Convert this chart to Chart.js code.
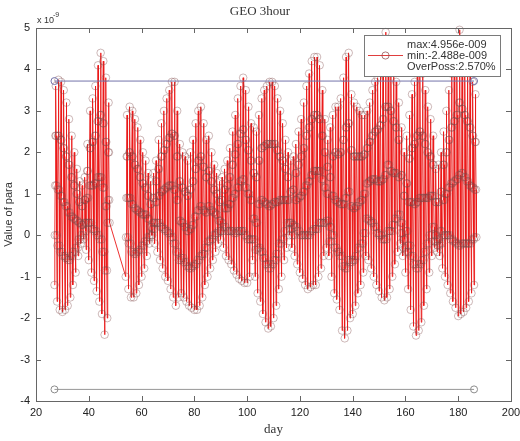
<!DOCTYPE html>
<html>
<head>
<meta charset="utf-8">
<title>GEO 3hour</title>
<script src="https://cdn.jsdelivr.net/npm/chart.js@4.4.1/dist/chart.umd.min.js"></script>
<style>
  html, body { margin: 0; padding: 0; background: #fff; }
  #wrap { width: 520px; height: 441px; }
</style>
</head>
<body>
<div id="wrap"><canvas id="chart" width="520" height="441"></canvas></div>
<script>
// days that have data (gap 48-53 is bridged by one line, as in the plot)
const days = [
  27, 28, 29, 30, 31, 32, 33, 34, 35, 36,
  37, 38, 39, 40, 41, 42, 43, 44, 45, 46,
  47,
  54, 55, 56, 57, 58, 59, 60, 61, 62, 63,
  64, 65, 66, 67, 68, 69, 70, 71, 72, 73,
  74, 75, 76, 77, 78, 79, 80, 81, 82, 83,
  84, 85, 86, 87, 88, 89, 90, 91, 92, 93,
  94, 95, 96, 97, 98, 99, 100, 101, 102, 103,
  104, 105, 106, 107, 108, 109, 110, 111, 112, 113,
  114, 115, 116, 117, 118, 119, 120, 121, 122, 123,
  124, 125, 126, 127, 128, 129, 130, 131, 132, 133,
  134, 135, 136, 137, 138, 139, 140, 141, 142, 143,
  144, 145, 146, 147, 148, 149, 150, 151, 152, 153,
  154, 155, 156, 157, 158, 159, 160, 161, 162, 163,
  164, 165, 166, 167, 168, 169, 170, 171, 172, 173,
  174, 175, 176, 177, 178, 179, 180, 181, 182, 183,
  184, 185, 186
];

// daily levels of the para value (x 1e-9):
// low, lower-centre, centre, upper-centre, high
const dayLow = [
  -1.2, -1.6, -1.8, -1.85, -1.8, -1.7, -1.5, -1.2, -0.9, -0.5,
  -0.2, -0.1, -0.35, -0.6, -0.9, -1.1, -1.35, -1.6, -1.9, -2.4,
  -2.0,
  -1.0, -1.3, -1.5, -1.5, -1.4, -1.2, -1.0, -0.8, -0.5, -0.2,
  0.0, -0.2, -0.4, -0.6, -0.8, -1.0, -1.1, -1.3, -1.5, -1.7,
  -1.5, -1.4, -1.5, -1.6, -1.7, -1.75, -1.8, -1.8, -1.7, -1.5,
  -1.2, -1.0, -0.8, -0.6, -0.4, -0.2, -0.1, -0.3, -0.5, -0.6,
  -0.7, -0.85, -0.95, -1.05, -1.1, -1.15, -1.15, -1.0, -0.6, -1.0,
  -1.4, -1.6, -1.9, -2.1, -2.25, -2.2, -2.0, -1.7, -1.3, -1.0,
  -0.6, -0.3, 0.0, -0.3, -0.5, -0.7, -0.9, -1.05, -1.2, -1.3,
  -1.25, -1.2, -1.2, -1.0, -0.8, -0.5, -0.3, -0.5, -1.0, -1.4,
  -1.55, -1.8, -2.3, -2.488, -2.3, -2.0, -1.9, -1.7, -1.4, -1.2,
  -0.9, -0.5, -0.6, -0.8, -1.0, -1.2, -1.35, -1.5, -1.57, -1.5,
  -1.3, -1.0, -0.7, -0.4, -0.2, -0.5, -0.9, -1.3, -1.8, -2.2,
  -2.42, -2.3, -2.1, -1.7, -1.3, -0.9, -0.5, -0.3, -0.4, -0.5,
  -0.8, -1.0, -1.2, -1.4, -1.6, -1.75, -1.95, -1.9, -1.85, -1.75,
  -1.6, -1.4, -1.2
];

const dayLower = [
  0.0, -0.25, -0.4, -0.5, -0.55, -0.6, -0.5, -0.4, -0.3, -0.1,
  0.0, 0.1, 0.3, 0.3, 0.15, 0.1, 0.0, -0.1, -0.4, -0.85,
  0.3,
  -0.05, -0.2, -0.4, -0.45, -0.4, -0.35, -0.25, -0.15, -0.05, 0.0,
  0.15, 0.3, 0.3, 0.2, 0.15, 0.1, 0.05, -0.05, -0.2, -0.4,
  -0.6, -0.55, -0.65, -0.75, -0.8, -0.75, -0.7, -0.6, -0.5, -0.45,
  -0.3, -0.15, -0.1, 0.0, 0.05, 0.1, 0.1, 0.2, 0.1, 0.1,
  0.1, 0.05, 0.1, 0.1, 0.1, 0.0, -0.1, -0.1, -0.1, -0.35,
  -0.3, -0.4, -0.55, -0.7, -0.8, -0.7, -0.6, -0.45, -0.2, -0.1,
  0.1, 0.3, 0.15, 0.0, 0.2, 0.1, 0.0, 0.0, 0.0, 0.0,
  0.1, 0.15, 0.15, 0.3, 0.3, 0.3, 0.35, -0.15, 0.0, -0.3,
  -0.4, -0.5, -0.75, -0.8, -0.6, -0.65, -0.6, -0.5, -0.3, -0.2,
  0.05, 0.4, 0.35, 0.3, 0.2, 0.05, 0.0, -0.1, -0.1, 0.1,
  0.1, 0.25, 0.4, 0.5, 0.05, -0.3, -0.4, -0.25, -0.5, -0.7,
  -0.8, -0.7, -0.6, -0.4, -0.2, 0.0, 0.2, -0.15, -0.25, -0.2,
  0.0, 0.0, 0.0, -0.1, -0.15, -0.2, -0.25, -0.2, -0.2, -0.2,
  -0.2, -0.1, -0.05
];

const dayMid = [
  1.2, 1.1, 0.95, 0.8, 0.7, 0.55, 0.45, 0.4, 0.35, 0.3,
  0.25, 0.3, 0.9, 1.2, 1.2, 1.25, 1.4, 1.4, 1.15, 0.7,
  0.85,
  0.9, 0.9, 0.75, 0.65, 0.6, 0.55, 0.5, 0.5, 0.4, 0.2,
  0.3, 0.8, 0.95, 1.05, 1.1, 1.15, 1.2, 1.2, 1.1, 0.85,
  0.35, 0.3, 0.2, 0.1, 0.15, 0.25, 0.45, 0.6, 0.7, 0.6,
  0.55, 0.7, 0.6, 0.55, 0.5, 0.35, 0.3, 0.65, 0.65, 0.75,
  0.9, 1.0, 1.15, 1.3, 1.35, 1.15, 1.0, 0.85, 0.4, 0.3,
  0.75, 0.85, 0.8, 0.75, 0.7, 0.75, 0.8, 0.8, 0.85, 0.85,
  0.85, 0.85, 0.3, 0.25, 0.85, 0.9, 0.95, 1.05, 1.2, 1.3,
  1.45, 1.55, 1.55, 1.55, 1.35, 1.15, 1.0, 0.2, 0.95, 0.85,
  0.8, 0.75, 0.75, 0.9, 1.05, 0.7, 0.65, 0.7, 0.8, 0.85,
  1.0, 1.25, 1.3, 1.35, 1.35, 1.3, 1.3, 1.35, 1.45, 1.7,
  1.55, 1.5, 1.5, 1.4, 0.3, -0.1, 0.1, 0.8, 0.8, 0.75,
  0.8, 0.9, 0.9, 0.9, 0.9, 0.95, 0.95, 0.0, -0.1, 0.1,
  0.85, 1.0, 1.15, 1.25, 1.3, 1.35, 1.45, 1.5, 1.4, 1.3,
  1.2, 1.15, 1.1
];

const dayUpper = [
  2.4, 2.4, 2.3, 2.1, 1.9, 1.7, 1.4, 1.2, 1.0, 0.8,
  0.7, 0.85, 1.55, 2.1, 2.25, 2.4, 2.75, 2.9, 2.7, 2.25,
  2.0,
  1.9, 2.0, 1.9, 1.7, 1.6, 1.4, 1.25, 1.15, 0.95, 0.75,
  0.9, 1.3, 1.6, 1.9, 2.05, 2.2, 2.35, 2.45, 2.4, 1.9,
  1.3, 1.15, 1.05, 0.95, 1.1, 1.3, 1.6, 1.8, 1.9, 1.65,
  1.4, 1.55, 1.3, 1.1, 1.0, 0.8, 0.85, 1.1, 1.2, 1.4,
  1.7, 1.95, 2.2, 2.45, 2.55, 2.3, 2.05, 1.8, 1.5, 1.4,
  1.8, 2.1, 2.15, 2.2, 2.2, 2.2, 2.2, 2.05, 1.9, 1.8,
  1.6, 1.4, 1.05, 1.1, 1.5, 1.7, 1.9, 2.1, 2.4, 2.6,
  2.8, 2.9, 2.9, 2.8, 2.4, 2.0, 1.65, 1.4, 1.9, 2.0,
  1.95, 2.0, 2.3, 2.6, 2.7, 2.05, 1.9, 1.9, 1.9, 1.9,
  1.95, 2.1, 2.25, 2.4, 2.5, 2.55, 2.65, 2.8, 3.1, 3.1,
  3.0, 2.75, 2.6, 2.3, 1.45, 0.95, 1.25, 1.85, 2.1, 2.2,
  2.4, 2.5, 2.4, 2.2, 2.0, 1.9, 1.7, 0.8, 0.8, 1.05,
  1.7, 2.0, 2.3, 2.6, 2.75, 2.9, 3.2, 3.05, 2.9, 2.75,
  2.6, 2.4, 2.25
];

const dayHigh = [
  3.6, 3.75, 3.7, 3.5, 3.2, 2.8, 2.4, 2.0, 1.6, 1.3,
  1.2, 1.4, 2.2, 3.0, 3.3, 3.6, 4.1, 4.4, 4.2, 3.8,
  3.2,
  2.9, 3.1, 3.0, 2.8, 2.6, 2.3, 2.0, 1.8, 1.5, 1.3,
  1.5, 1.8, 2.3, 2.7, 3.0, 3.3, 3.5, 3.7, 3.7, 3.0,
  2.2, 2.0, 1.9, 1.8, 2.0, 2.3, 2.7, 3.0, 3.1, 2.7,
  2.3, 2.4, 2.0, 1.7, 1.5, 1.3, 1.4, 1.6, 1.8, 2.1,
  2.5, 2.9, 3.3, 3.6, 3.8, 3.5, 3.1, 2.7, 2.6, 2.5,
  2.9, 3.3, 3.5, 3.6, 3.7, 3.7, 3.6, 3.3, 3.0, 2.7,
  2.3, 2.0, 1.8, 1.9, 2.2, 2.5, 2.8, 3.2, 3.6, 3.9,
  4.2, 4.3, 4.3, 4.1, 3.5, 2.8, 2.3, 2.6, 2.9, 3.1,
  3.1, 3.3, 3.8, 4.3, 4.4, 3.4, 3.2, 3.1, 3.0, 2.9,
  2.9, 3.0, 3.2, 3.5, 3.7, 3.8, 4.0, 4.3, 4.9, 4.6,
  4.4, 4.0, 3.7, 3.2, 2.6, 2.0, 2.4, 2.9, 3.4, 3.7,
  4.0, 4.1, 3.9, 3.5, 3.1, 2.8, 2.4, 1.6, 1.7, 2.0,
  2.5, 3.0, 3.5, 3.9, 4.2, 4.5, 4.956, 4.6, 4.4, 4.2,
  4.0, 3.7, 3.4
];

// threshold lines
const limitValue = 3.72;
const limitDays = [27, 186];

const xTicks = [20, 40, 60, 80, 100, 120, 140, 160, 180, 200];
const yTicks = [-4, -3, -2, -1, 0, 1, 2, 3, 4, 5];
const legendLines = ["max:4.956e-009", "min:-2.488e-009", "OverPoss:2.570%"];

// eight 3-hour samples per day
const series = [];
days.forEach((d, i) => {
  const seq = [dayLow[i], dayLower[i], dayMid[i], dayUpper[i],
               dayHigh[i], dayUpper[i], dayMid[i], dayLower[i]];
  seq.forEach((v, k) => series.push({ x: d + k / 8, y: v }));
});

const sans = "'Liberation Sans', Arial, sans-serif";
const serif = "'Liberation Serif', 'Times New Roman', serif";

// matlab style frame: box, inward ticks, exponent and legend
const matlabFrame = {
  id: "matlabFrame",
  afterDatasetsDraw(chart) {
    const ctx = chart.ctx;
    ctx.save();
    // legend box
    const bx = 364.5, by = 35.5, bw = 136, bh = 41;
    ctx.fillStyle = "#fff";
    ctx.fillRect(bx, by, bw, bh);
    ctx.strokeStyle = "#7a7a7a";
    ctx.lineWidth = 1;
    ctx.strokeRect(bx, by, bw, bh);
    ctx.font = "11px " + sans;
    ctx.fillStyle = "#333";
    ctx.textBaseline = "middle";
    ctx.textAlign = "left";
    const rows = [44.5, 55.5, 67];
    legendLines.forEach((t, i) => ctx.fillText(t, 407, rows[i]));
    ctx.strokeStyle = "rgb(220,40,40)";
    ctx.lineWidth = 0.9;
    ctx.beginPath();
    ctx.moveTo(368, 55.5);
    ctx.lineTo(403, 55.5);
    ctx.stroke();
    ctx.strokeStyle = "rgba(140,70,70,0.8)";
    ctx.beginPath();
    ctx.arc(385.5, 55.5, 3.6, 0, Math.PI * 2);
    ctx.stroke();
    ctx.restore();
  },
  afterDraw(chart) {
    const { ctx, chartArea: a, scales } = chart;
    ctx.save();
    ctx.strokeStyle = "#666";
    ctx.lineWidth = 1;
    ctx.strokeRect(Math.round(a.left) + 0.5, Math.round(a.top) + 0.5,
      Math.round(a.right - a.left), Math.round(a.bottom - a.top));
    ctx.beginPath();
    xTicks.forEach(v => {
      const px = Math.round(scales.x.getPixelForValue(v)) + 0.5;
      ctx.moveTo(px, a.bottom);
      ctx.lineTo(px, a.bottom - 5);
      ctx.moveTo(px, a.top);
      ctx.lineTo(px, a.top + 5);
    });
    yTicks.forEach(v => {
      const py = Math.round(scales.y.getPixelForValue(v)) + 0.5;
      ctx.moveTo(a.left, py);
      ctx.lineTo(a.left + 5, py);
      ctx.moveTo(a.right, py);
      ctx.lineTo(a.right - 5, py);
    });
    ctx.stroke();
    // exponent label
    ctx.fillStyle = "#333";
    ctx.textBaseline = "alphabetic";
    ctx.font = "9px " + sans;
    ctx.fillText("x 10", 37, 23);
    ctx.font = "7px " + sans;
    ctx.fillText("-9", 53, 17);
    ctx.restore();
  }
};

new Chart(document.getElementById("chart"), {
  type: "scatter",
  data: {
    datasets: [
      {
        data: limitDays.map(d => ({ x: d, y: limitValue })),
        showLine: true,
        borderColor: "rgb(115,115,170)",
        borderWidth: 1,
        pointRadius: 3.5,
        pointBorderWidth: 1,
        pointBorderColor: "rgb(115,115,170)",
        pointBackgroundColor: "rgba(0,0,0,0)"
      },
      {
        data: limitDays.map(d => ({ x: d, y: -limitValue })),
        showLine: true,
        borderColor: "rgb(150,150,150)",
        borderWidth: 1,
        pointRadius: 3.5,
        pointBorderWidth: 1,
        pointBorderColor: "rgb(140,140,140)",
        pointBackgroundColor: "rgba(0,0,0,0)"
      },
      {
        data: series,
        showLine: true,
        borderColor: "rgb(235,25,25)",
        borderWidth: 0.9,
        pointRadius: 3.8,
        pointBorderWidth: 0.7,
        pointBorderColor: "rgba(125,70,70,0.55)",
        pointBackgroundColor: "rgba(0,0,0,0)",
        clip: 6
      }
    ]
  },
  options: {
    responsive: false,
    animation: false,
    devicePixelRatio: 1,
    layout: { padding: { left: 0, right: 0, top: 0, bottom: 0 } },
    plugins: {
      legend: { display: false },
      tooltip: { enabled: false },
      title: {
        display: true,
        text: "GEO 3hour",
        color: "#333",
        font: { family: serif, size: 13, weight: "normal" },
        padding: { top: 4, bottom: 8.4 }
      }
    },
    scales: {
      x: {
        type: "linear",
        min: 20,
        max: 200,
        afterBuildTicks: s => { s.ticks = xTicks.map(v => ({ value: v })); },
        afterFit: s => { s.height = 40; s.paddingRight = 9; s.paddingLeft = 0; },
        grid: { display: false, drawTicks: false },
        border: { display: false },
        ticks: { color: "#222", padding: 5, font: { family: sans, size: 11 }, maxRotation: 0 },
        title: {
          display: true,
          text: "day",
          color: "#333",
          font: { family: serif, size: 13 },
          padding: { top: 0, bottom: 4 }
        }
      },
      y: {
        type: "linear",
        min: -4,
        max: 5,
        afterBuildTicks: s => { s.ticks = yTicks.map(v => ({ value: v })); },
        afterFit: s => { s.width = 36; },
        grid: { display: false, drawTicks: false },
        border: { display: false },
        ticks: { color: "#222", padding: 6, font: { family: sans, size: 11 } },
        title: {
          display: true,
          text: "Value of para",
          color: "#333",
          font: { family: sans, size: 11 },
          padding: { top: 2, bottom: 0 }
        }
      }
    }
  },
  plugins: [matlabFrame]
});
</script>
</body>
</html>
